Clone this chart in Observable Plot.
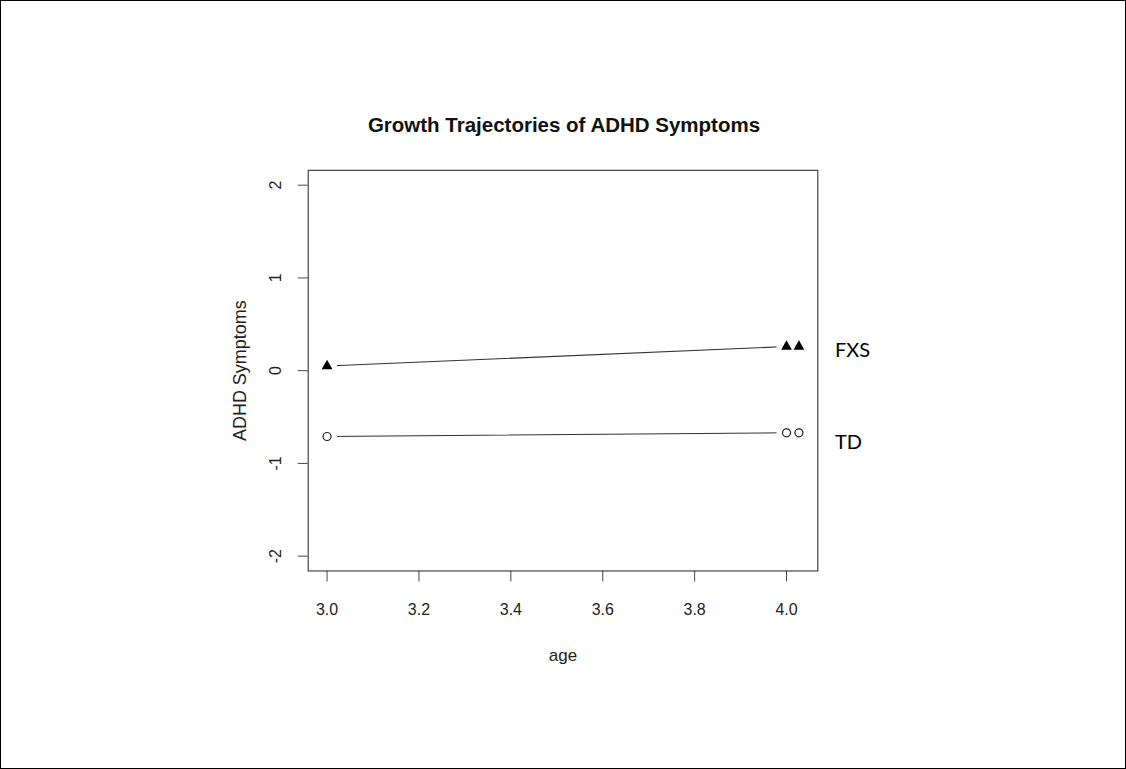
<!DOCTYPE html>
<html>
<head>
<meta charset="utf-8">
<script src="https://cdn.jsdelivr.net/npm/d3@7"></script>
<script src="https://cdn.jsdelivr.net/npm/@observablehq/plot@0.6"></script>
<style>
  html, body { margin: 0; padding: 0; background: #fff; }
  #wrap { position: relative; width: 1126px; height: 769px; box-sizing: border-box; border: 1px solid #000; overflow: hidden; }
  #chart { position: absolute; left: -1px; top: -1px; }
  #title { position: absolute; left: 0; width: 1126px; top: 112px; text-align: center;
           font: bold 20.5px "Liberation Sans", Arial, sans-serif; color: #111; }
</style>
</head>
<body>
<div id="wrap">
  <div id="chart"></div>
  <div id="title">Growth Trajectories of ADHD Symptoms</div>
</div>
<script>
// Data
const ages = [3.0, 4.0, 4.027];
const fxsValues = [0.05, 0.26, 0.26];
const tdValues = [-0.71, -0.67, -0.67];
const groups = ["FXS", "TD"];
const labelValues = [0.22, -0.78];   // vertical placement of the group labels
const xTicks = [3.0, 3.2, 3.4, 3.6, 3.8, 4.0];
const yTicks = [-2, -1, 0, 1, 2];

const fxs = ages.map((a, i) => ({group: "FXS", age: a, value: fxsValues[i]}));
const td = ages.map((a, i) => ({group: "TD", age: a, value: tdValues[i]}));
const all = fxs.concat(td);
const labels = groups.map((g, i) => ({group: g, age: d3.max(ages), value: labelValues[i]}));

const font = "'Liberation Sans', Arial, sans-serif";

const chart = Plot.plot({
  width: 1126,
  height: 769,
  marginLeft: 308,
  marginRight: 308,
  marginTop: 170,
  marginBottom: 198,
  style: {fontFamily: font, background: "white", color: "#222"},
  x: {domain: [2.959, 4.068], axis: null},
  y: {domain: [-2.16, 2.16], axis: null},
  marks: [
    Plot.frame({stroke: "#444", strokeWidth: 1.2}),
    // tick marks
    Plot.axisX({ticks: xTicks, tickSize: 11, tickFormat: () => "", stroke: "#444", label: null}),
    Plot.axisY({ticks: yTicks, tickSize: 10, tickFormat: () => "", stroke: "#444", label: null}),
    // tick labels
    Plot.text(xTicks, {x: d => d, frameAnchor: "bottom", dy: 39, textAnchor: "middle", lineAnchor: "middle", text: d => d.toFixed(1), fontSize: 16, fill: "#222"}),
    Plot.text(yTicks, {y: d => d, frameAnchor: "left", dx: -32, rotate: -90, textAnchor: "middle", lineAnchor: "middle", text: d => String(d), fontSize: 16, fill: "#222"}),
    // axis titles
    Plot.text(["age"], {frameAnchor: "bottom", dy: 85, textAnchor: "middle", lineAnchor: "middle", text: d => d, fontSize: 17, fill: "#222"}),
    Plot.text(["ADHD Symptoms"], {frameAnchor: "left", dx: -68, rotate: -90, textAnchor: "middle", lineAnchor: "middle", text: d => d, fontSize: 18, fill: "#222"}),
    // lines (type "b": gaps around points)
    Plot.line(all, {x: "age", y: "value", z: "group", stroke: "#333", strokeWidth: 1.1}),
    Plot.dot(all, {x: "age", y: "value", r: 10, fill: "white", stroke: null}),
    // points
    Plot.dot(fxs, {x: "age", y: "value", symbol: "triangle", r: 4, fill: "#000", stroke: null}),
    Plot.dot(td, {x: "age", y: "value", symbol: "circle", r: 4, fill: "white", stroke: "#222", strokeWidth: 1.2}),
    // group labels
    Plot.text(labels, {x: "age", y: "value", text: "group", dx: 36, textAnchor: "start", lineAnchor: "middle", fontSize: 20, fill: "#000", fontFamily: "Lato, 'Open Sans', sans-serif"})
  ]
});
document.getElementById("chart").appendChild(chart);
</script>
</body>
</html>
